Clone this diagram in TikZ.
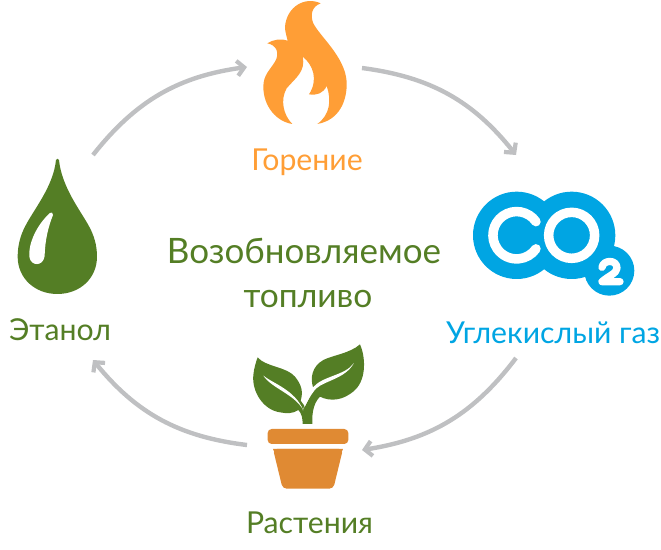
\documentclass[tikz,border=0pt]{standalone}
\usepackage{fontspec}
\setmainfont{Lato}
\usetikzlibrary{arrows.meta}
\definecolor{lf}{HTML}{547E25}
\definecolor{fl}{HTML}{FF9E36}
\definecolor{bl}{HTML}{00A5E3}
\definecolor{pt}{HTML}{E08A33}
\definecolor{ar}{HTML}{BFC0C2}
\tikzset{
 conn/.style={draw=ar,line width=4.4pt,-{Straight Barb[length=7pt,width=15pt,line width=4.2pt]}},
 lab/.style={anchor=base,inner sep=0pt,font=\fontsize{30.2}{36}\selectfont},
 biglab/.style={anchor=base,inner sep=0pt,font=\fontsize{35}{40}\selectfont},
 icon/.style={x=0.3333pt,y=-0.3333pt}
}
\begin{document}
\begin{tikzpicture}[x=1pt,y=-1pt]
\useasboundingbox (0,0) rectangle (661,549);
% flame
\begin{scope}[icon,shift={(230pt,0pt)}]
\fill[fl] (272,10) .. controls (225,-12) and (170,20) .. (165,80)
 .. controls (165,95) and (170,110) .. (173,122)
 .. controls (155,115) and (130,118) .. (112,130)
 .. controls (140,135) and (150,160) .. (135,185)
 .. controls (120,210) and (100,225) .. (100,260)
 .. controls (100,320) and (140,365) .. (187,372)
 .. controls (160,345) and (150,300) .. (170,265)
 .. controls (195,235) and (228,215) .. (218,170)
 .. controls (250,195) and (265,240) .. (237,283)
 .. controls (260,287) and (280,280) .. (290,258)
 .. controls (305,300) and (300,345) .. (262,372)
 .. controls (330,360) and (352,300) .. (350,245)
 .. controls (345,170) and (270,110) .. (250,70)
 .. controls (240,45) and (245,20) .. (272,10) -- cycle;
\end{scope}
% drop
\begin{scope}[icon,shift={(0pt,-150pt)}]
\fill[lf] (168,30) .. controls (160,110) and (100,180) .. (75,230)
 .. controls (62,255) and (53,285) .. (53,320)
 .. controls (53,385) and (105,432) .. (172,432)
 .. controls (240,432) and (291,385) .. (291,320)
 .. controls (291,285) and (282,255) .. (265,225)
 .. controls (240,180) and (185,110) .. (177,30)
 .. controls (176,25) and (169,25) .. (168,30) -- cycle;
\fill[white] (150,189) .. controls (110,225) and (85,280) .. (88,320)
 .. controls (92,350) and (130,350) .. (134,318)
 .. controls (135,270) and (145,230) .. (159,195)
 .. controls (160,187) and (153,186) .. (150,189) -- cycle;
\end{scope}
% co2
\begin{scope}[icon,shift={(460pt,-180pt)}]
\fill[bl] (170,166) circle[radius=131];
\fill[bl] (335,166) circle[radius=131];
\fill[bl] (448,272) circle[radius=75];
\draw[white,line width=9.5pt,line cap=round] (228,125) arc[start angle=-35,end angle=-325,radius=71];
\draw[white,line width=9.5pt] (335,166) circle[radius=69];
\draw[white,line width=7.3pt,line cap=round,line join=round] (426,262) .. controls (430,238) and (472,238) .. (471,265) .. controls (470,280) and (445,288) .. (426,305) -- (480,305);
\end{scope}
% plant
\begin{scope}[icon,shift={(230pt,-335pt)}]
\fill[lf] (83,67) .. controls (105,95) and (170,95) .. (195,125)
 .. controls (215,150) and (220,170) .. (212,197)
 -- (225,215) .. controls (235,195) and (245,175) .. (250,160)
 .. controls (240,130) and (245,95) .. (280,75)
 .. controls (310,60) and (360,55) .. (390,28)
 .. controls (405,60) and (412,130) .. (375,165)
 .. controls (340,198) and (300,200) .. (270,185)
 .. controls (255,200) and (245,225) .. (247,267)
 -- (218,267) .. controls (218,250) and (215,235) .. (205,225)
 .. controls (190,236) and (170,236) .. (150,232)
 .. controls (100,225) and (65,170) .. (70,120)
 .. controls (72,100) and (78,80) .. (83,67) -- cycle;
\fill[white] (100,122) .. controls (130,146) and (195,165) .. (220,226)
 .. controls (195,178) and (125,160) .. (100,122) -- cycle;
\fill[white] (372,84) .. controls (345,122) and (280,122) .. (250,156)
 .. controls (238,175) and (228,200) .. (218,226)
 .. controls (228,205) and (245,175) .. (258,161)
 .. controls (285,136) and (345,132) .. (372,84) -- cycle;
\fill[pt,rounded corners=4pt] (113,282) rectangle (355,327);
\fill[pt,rounded corners=4pt] (129,342) -- (339,342) -- (310,461) -- (158,461) -- cycle;
\fill[pt] (129,342) -- (339,342) -- (335,352) -- (133,352) -- cycle;
\end{scope}
% labels
\node[lab,text=fl] (lgor) at (307,170) {Горение};
\node[lab,text=bl] (lugl) at (553,343) {Углекислый газ};
\node[lab,text=lf] (lras) at (309.5,533) {Растения};
\node[lab,text=lf] (leta) at (60,340) {Этанол};
\node[biglab,text=lf] (lvoz) at (304,263) {Возобновляемое};
\node[biglab,text=lf,font=\fontsize{33.5}{40}\selectfont] (ltop) at (308,307) {топливо};
% connectors
\coordinate (a1) at (93,155); \coordinate (b1) at (247,67);
\coordinate (a2) at (362,68); \coordinate (b2) at (516,155);
\coordinate (a3) at (516,358); \coordinate (b3) at (362,450);
\coordinate (a4) at (247,445); \coordinate (b4) at (93,360);
\draw[conn] (a1) to[bend left=22] (b1);
\draw[conn] (a2) to[bend left=22] (b2);
\draw[conn] (a3) to[bend left=22] (b3);
\draw[conn] (a4) to[bend left=22] (b4);
\end{tikzpicture}
\end{document}
